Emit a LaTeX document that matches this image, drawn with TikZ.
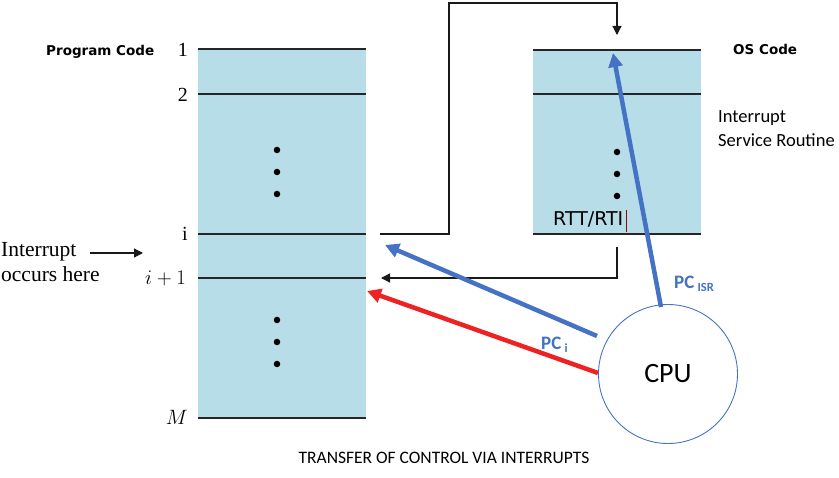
\documentclass[tikz,border=0pt]{standalone}
\usepackage{fontspec}
\setmainfont{Liberation Serif}
\newfontfamily\calfont{Carlito}
\newfontfamily\dvfont{DejaVu Sans}
\usetikzlibrary{arrows.meta}
\definecolor{boxfill}{HTML}{B7DDE8}
\definecolor{pcblue}{HTML}{4472C4}
\definecolor{pcred}{HTML}{EE2222}
\tikzset{
  memline/.style={line width=1.3pt, draw=black!85},
  membox/.style={fill=boxfill, draw=none, inner sep=0pt, anchor=north west},
  numlabel/.style={anchor=base east, inner sep=0pt, font=\fontsize{20}{24}\selectfont},
  dotmark/.style={circle, fill=black, inner sep=0pt, minimum size=6.5pt},
  ctrl/.style={line width=1.2pt, draw=black!90, -{Triangle[length=9pt,width=9pt]}},
  bigarrow/.style={line width=4.5pt, -{Triangle[length=14pt,width=14pt]}},
  heading/.style={font=\dvfont\bfseries\fontsize{13.5}{16}\selectfont, inner sep=0pt},
  pclabel/.style={text=pcblue, font=\calfont\bfseries\fontsize{19}{22}\selectfont, inner sep=0pt},
  isrtext/.style={anchor=base west, inner sep=0pt, font=\calfont\fontsize{18.5}{22}\selectfont}
}
\begin{document}
\begin{tikzpicture}[x=1pt,y=-1pt]
\useasboundingbox (0,0) rectangle (839,478);
% boxes
\node[membox, minimum width=168pt, minimum height=369pt] (pbox) at (198,49) {};
\node[membox, minimum width=168pt, minimum height=185pt] (obox) at (533,49) {};
% left lines
\coordinate (l1a) at (198,49);  \coordinate (l1b) at (366,49);
\coordinate (l2a) at (198,94);  \coordinate (l2b) at (366,94);
\coordinate (lia) at (198,234); \coordinate (lib) at (366,234);
\coordinate (lja) at (198,278); \coordinate (ljb) at (366,278);
\coordinate (lma) at (198,418); \coordinate (lmb) at (366,418);
\draw[memline] (l1a) -- (l1b);
\draw[memline] (l2a) -- (l2b);
\draw[memline] (lia) -- (lib);
\draw[memline] (lja) -- (ljb);
\draw[memline] (lma) -- (lmb);
% right lines
\coordinate (r1a) at (533,50);  \coordinate (r1b) at (701,50);
\coordinate (r2a) at (533,94);  \coordinate (r2b) at (701,94);
\coordinate (r3a) at (533,234); \coordinate (r3b) at (701,234);
\draw[memline] (r1a) -- (r1b);
\draw[memline] (r2a) -- (r2b);
\draw[memline] (r3a) -- (r3b);
% numbers
\node[numlabel] (n1) at (188,57) {1};
\node[numlabel] (n2) at (188,102) {2};
\node[numlabel] (ni) at (188,241) {i};
\node[numlabel] (nj) at (186,285) {$i+1$};
\node[numlabel] (nm) at (188,425) {$M$};
% dots
\node[dotmark] (d1) at (277,150) {};
\node[dotmark] (d2) at (277,172) {};
\node[dotmark] (d3) at (277,194) {};
\node[dotmark] (d4) at (277,320) {};
\node[dotmark] (d5) at (277,342) {};
\node[dotmark] (d6) at (277,364) {};
\node[dotmark] (d7) at (617,152) {};
\node[dotmark] (d8) at (617,174) {};
\node[dotmark] (d9) at (617,196) {};
% headings
\node[heading, anchor=west] (pc) at (46,52) {Program Code};
\node[heading, anchor=west] (oc) at (733,49) {OS Code};
\node[isrtext] (isr1) at (718,123) {Interrupt};
\node[isrtext] (isr2) at (718,147) {Service Routine};
\node[anchor=base west, inner sep=0pt, font=\dvfont\fontsize{19}{22}\selectfont] (rtt) at (553,226) {RTT/RTI};
\coordinate (cur1) at (626,210);
\coordinate (cur2) at (626,232);
\draw[draw=red!60!black, line width=0.6pt] (cur1) -- (cur2);
% interrupt text
\node[anchor=base west, inner sep=0pt, font=\fontsize{21.5}{25}\selectfont] (intr1) at (1,257) {Interrupt};
\node[anchor=base west, inner sep=0pt, font=\fontsize{21.5}{25}\selectfont] (intr2) at (1,282) {occurs here};
\coordinate (ia) at (90,253);
\coordinate (ib) at (143,253);
\draw[ctrl] (ia) -- (ib);
% control transfer to ISR
\coordinate (jstart) at (380,234);
\coordinate (jtip) at (617,35);
\draw[ctrl] (jstart) -- (449,234) -- (449,3) -- (617,3) -- (jtip);
% return
\coordinate (rstart) at (617,247);
\coordinate (rtip) at (381,278);
\draw[ctrl] (rstart) -- (617,278) -- (rtip);
% CPU
\node[circle, draw=pcblue, line width=0.9pt, minimum size=139pt, inner sep=0pt, font=\calfont\fontsize{28}{32}\selectfont] (cpu) at (668,374) {CPU};
\coordinate (btail) at (597,336);
\coordinate (btip) at (385,245);
\draw[bigarrow, draw=pcblue, fill=pcblue] (btail) -- (btip);
\coordinate (rtail) at (598,373);
\coordinate (rhead) at (367,291);
\draw[bigarrow, draw=pcred, fill=pcred] (rtail) -- (rhead);
\coordinate (otail) at (661,307);
\coordinate (ohead) at (613,53);
\draw[bigarrow, draw=pcblue, fill=pcblue] (otail) -- (ohead);
% PC labels
\node[pclabel, anchor=base west] (pcisr) at (674,289) {PC\,\raisebox{-3pt}{\fontsize{12.5}{14}\selectfont ISR}};
\node[pclabel, anchor=base west] (pci) at (541,350) {PC\,\raisebox{-3pt}{\fontsize{12.5}{14}\selectfont i}};
% title
\node[anchor=base, inner sep=0pt, font=\calfont\fontsize{17.5}{20}\selectfont] (title) at (444,464) {TRANSFER OF CONTROL VIA INTERRUPTS};
\end{tikzpicture}
\end{document}
